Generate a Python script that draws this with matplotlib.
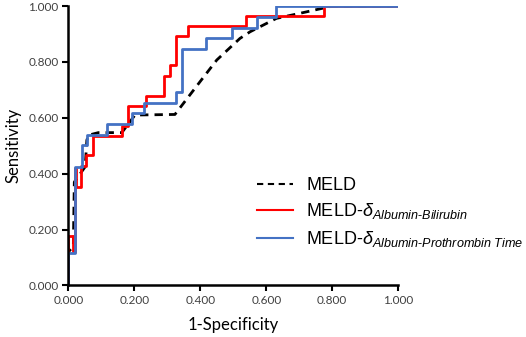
import matplotlib
matplotlib.use("Agg")
import matplotlib.pyplot as plt

# ROC step curves (1-specificity, sensitivity)
meld_x = [0.0, 0.0, 0.015, 0.018, 0.051, 0.056, 0.061, 0.091, 0.162, 0.202, 0.323,
          0.399, 0.45, 0.52, 0.551, 0.631, 0.702, 0.793, 1.0]
meld_y = [0.0, 0.12, 0.14, 0.37, 0.425, 0.52, 0.538, 0.547, 0.547, 0.610, 0.612,
          0.729, 0.807, 0.884, 0.908, 0.956, 0.974, 0.998, 1.0]

ab_x = [0.0, 0.0, 0.015, 0.015, 0.020, 0.020, 0.023, 0.023, 0.038, 0.038, 0.054, 0.054,
        0.076, 0.076, 0.164, 0.164, 0.182, 0.182, 0.235, 0.235, 0.290, 0.290, 0.308,
        0.308, 0.325, 0.325, 0.362, 0.362, 0.540, 0.540, 0.776, 0.776, 1.0]
ab_y = [0.0, 0.178, 0.178, 0.12, 0.12, 0.42, 0.42, 0.351, 0.351, 0.427, 0.427, 0.467,
        0.467, 0.535, 0.535, 0.571, 0.571, 0.642, 0.642, 0.679, 0.679, 0.750, 0.750,
        0.788, 0.788, 0.893, 0.893, 0.928, 0.928, 0.965, 0.965, 1.0, 1.0]

apt_x = [0.0, 0.0, 0.020, 0.020, 0.041, 0.041, 0.056, 0.056, 0.116, 0.116, 0.192, 0.192,
         0.230, 0.230, 0.325, 0.325, 0.344, 0.344, 0.416, 0.416, 0.497, 0.497, 0.573,
         0.573, 0.629, 0.629, 1.0]
apt_y = [0.0, 0.115, 0.115, 0.425, 0.425, 0.503, 0.503, 0.538, 0.538, 0.578, 0.578,
         0.616, 0.616, 0.654, 0.654, 0.693, 0.693, 0.846, 0.846, 0.884, 0.884, 0.922,
         0.922, 0.960, 0.960, 1.0, 1.0]

ticks = [0.0, 0.2, 0.4, 0.6, 0.8, 1.0]
labels = ["MELD",
          r"MELD-$\delta_{Albumin\text{-}Bilirubin}$",
          r"MELD-$\delta_{Albumin\text{-}Prothrombin\ Time}$"]

plt.rcParams["mathtext.fontset"] = "custom"
plt.rcParams["mathtext.rm"] = "Liberation Sans"
plt.rcParams["mathtext.it"] = "Liberation Sans:italic"

fig = plt.figure(figsize=(5.26, 3.37), dpi=100)
ax = fig.add_axes([0.130, 0.153, 0.627, 0.829])

ax.plot(meld_x, meld_y, color="black", lw=2, ls=(0, (3, 2.2)), label=labels[0])
ax.plot(ab_x, ab_y, color="#ff0000", lw=2, label=labels[1])
ax.plot(apt_x, apt_y, color="#4472c4", lw=2, label=labels[2])

ax.set_xlim(0, 1)
ax.set_ylim(0, 1)
ax.set_xticks(ticks)
ax.set_yticks(ticks)
ax.set_xticklabels([f"{t:.3f}" for t in ticks], fontsize=8.5, color="#404040", family="Lato")
ax.set_yticklabels([f"{t:.3f}" for t in ticks], fontsize=8.5, color="#404040", family="Lato")
ax.tick_params(direction="out", length=4, width=1.5, pad=3)
for s in ["top", "right"]:
    ax.spines[s].set_visible(False)
for s in ["left", "bottom"]:
    ax.spines[s].set_linewidth(1.8)
ax.set_xlabel("1-Specificity", fontsize=12, family="Lato", labelpad=8)
ax.set_ylabel("Sensitivity", fontsize=12, family="Lato", labelpad=5)

leg = ax.legend(loc="center left", bbox_to_anchor=(0.488, 0.368),
                bbox_transform=fig.transFigure, frameon=False,
                prop={"family": "Liberation Sans", "size": 13},
                handlelength=2.0, handletextpad=0.75, labelspacing=0.42,
                borderpad=0, borderaxespad=0)
for h in leg.get_lines():
    h.set_linewidth(1.5)

fig.savefig("out.png", dpi=100)
